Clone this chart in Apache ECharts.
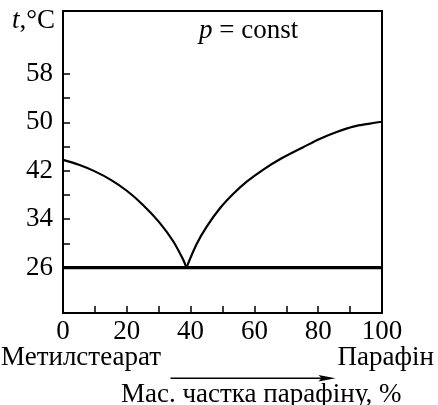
<!DOCTYPE html>
<html>
<head>
<meta charset="utf-8">
<script src="https://cdn.jsdelivr.net/npm/echarts@6/dist/echarts.min.js"></script>
<style>
  html, body { margin: 0; padding: 0; background: #fff; }
  #chart { width: 438px; height: 405px; }
</style>
</head>
<body>
<div id="chart"></div>
<script>
// Liquidus of the methyl stearate – paraffin system (mass % paraffin vs t, °C)
const liquidusLeftX = [0, 5, 10, 15, 20, 25, 30, 34.5, 37.5, 38.7];
const liquidusLeftT = [43.8, 43.0, 41.9, 40.5, 38.7, 36.4, 33.6, 30.4, 27.5, 26.0];

const liquidusRightX = [38.7, 41.9, 45.1, 49.2, 53.4, 57.6, 62.8, 68, 75.3, 80.6, 85.8, 91, 96.2, 100];
const liquidusRightT = [26.0, 29.9, 32.8, 35.8, 38.2, 40.2, 42.2, 43.9, 45.9, 47.3, 48.4, 49.3, 49.8, 50.1];

// Eutectic (solidus) line
const solidusX = [0, 100];
const solidusT = [26, 26];

// Axis ticks and labels
const xTickValues = [10, 20, 30, 40, 50, 60, 70, 80, 90];
const xLabelValues = [0, 20, 40, 60, 80, 100];
const yTickValues = [26, 30, 34, 38, 42, 46, 50, 54, 58];
const yLabelValues = [26, 34, 42, 50, 58];

const zip = (xs, ys) => xs.map((x, i) => [x, ys[i]]);

const serif = 'Liberation Serif';
const font = '27px "Liberation Serif"';
const chart = echarts.init(document.getElementById('chart'), null, { renderer: 'canvas' });

chart.setOption({
  animation: false,
  backgroundColor: '#fff',
  grid: {
    left: 63, right: 56, top: 11, bottom: 92,
    show: true, borderColor: '#000', borderWidth: 2, backgroundColor: 'transparent'
  },
  xAxis: {
    type: 'value', min: 0, max: 100,
    axisLine: { show: true, onZero: false, lineStyle: { color: '#000', width: 2 } },
    axisTick: { show: true, inside: true, length: 7, customValues: xTickValues, lineStyle: { color: '#000', width: 1.5 } },
    axisLabel: { customValues: xLabelValues, color: '#000', fontFamily: serif, fontSize: 27, margin: 5 },
    splitLine: { show: false }
  },
  yAxis: {
    type: 'value', min: 18.5, max: 68.4,
    axisLine: { show: true, onZero: false, lineStyle: { color: '#000', width: 2 } },
    axisTick: { show: true, inside: true, length: 7, customValues: yTickValues, lineStyle: { color: '#000', width: 1.5 } },
    axisLabel: { customValues: yLabelValues, color: '#000', fontFamily: serif, fontSize: 27, margin: 10 },
    splitLine: { show: false }
  },
  series: [
    {
      type: 'line', data: zip(liquidusLeftX, liquidusLeftT), smooth: 0.3,
      symbol: 'none', lineStyle: { color: '#000', width: 2.2 }
    },
    {
      type: 'line', data: zip(liquidusRightX, liquidusRightT), smooth: 0.3,
      symbol: 'none', lineStyle: { color: '#000', width: 2.2 }
    },
    {
      type: 'line', data: zip(solidusX, solidusT),
      symbol: 'none', lineStyle: { color: '#000', width: 3.2 }
    }
  ],
  graphic: [
    {
      type: 'text', right: 383, top: 7,
      style: {
        text: '{i|t},°C', fill: '#000', font: font,
        rich: { i: { fontStyle: 'italic', fontFamily: serif, fontSize: 27 } }
      }
    },
    {
      type: 'text', left: 199, top: 17,
      style: {
        text: '{i|p} = const', fill: '#000', font: font,
        rich: { i: { fontStyle: 'italic', fontFamily: serif, fontSize: 27 } }
      }
    },
    {
      type: 'text', left: 1, top: 344,
      style: { text: 'Метилстеарат', fill: '#000', font: font }
    },
    {
      type: 'text', right: 4, top: 344,
      style: { text: 'Парафін', fill: '#000', font: font }
    },
    {
      type: 'text', left: 121, top: 381,
      style: { text: 'Мас. частка парафіну, %', fill: '#000', font: font }
    },
    {
      type: 'group', left: 168, top: 375,
      children: [
        { type: 'line', shape: { x1: 0, y1: 3.3, x2: 155, y2: 3.3 }, style: { stroke: '#000', lineWidth: 1.6 } },
        { type: 'polygon', shape: { points: [[148, 0], [165, 3.3], [148, 6.6], [151, 3.3]] }, style: { fill: '#000' } }
      ]
    }
  ]
});
</script>
</body>
</html>
